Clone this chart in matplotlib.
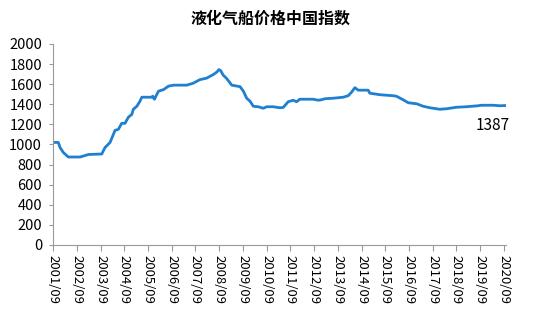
import matplotlib
matplotlib.use("Agg")
import matplotlib.pyplot as plt

plt.rcParams['font.family'] = ['Noto Sans CJK SC', 'DejaVu Sans']

# 指數數據 (年份小數, 指數值)
years = [2001.74, 2001.97, 2002.04, 2002.18, 2002.39, 2002.89, 2003.24, 2003.80,
         2003.94, 2004.15, 2004.36, 2004.50, 2004.64, 2004.78, 2004.92, 2005.07,
         2005.13, 2005.28, 2005.41, 2005.49, 2005.91, 2005.95, 2006.02, 2006.19,
         2006.40, 2006.61, 2006.82, 2007.38, 2007.66, 2007.94, 2008.22, 2008.50,
         2008.65, 2008.74, 2008.81, 2008.92, 2009.07, 2009.28, 2009.63, 2009.77,
         2009.91, 2010.05, 2010.19, 2010.40, 2010.61, 2010.75, 2011.03, 2011.31,
         2011.45, 2011.66, 2011.87, 2012.01, 2012.15, 2012.71, 2012.93, 2013.07,
         2013.21, 2013.56, 2013.98, 2014.19, 2014.33, 2014.47, 2014.61, 2015.03,
         2015.10, 2015.52, 2016.08, 2016.22, 2016.50, 2016.72, 2017.07, 2017.35,
         2017.63, 2018.05, 2018.33, 2018.75, 2019.17, 2019.66, 2019.80, 2020.30,
         2020.58, 2020.79]
values = [1020, 1020, 970, 920, 875, 875, 900, 905,
          970, 1020, 1140, 1150, 1210, 1210, 1270, 1300,
          1350, 1380, 1430, 1470, 1470, 1480, 1450, 1530,
          1545, 1580, 1590, 1590, 1610, 1645, 1660, 1695,
          1720, 1745, 1735, 1690, 1655, 1590, 1575, 1530,
          1460, 1430, 1380, 1375, 1360, 1375, 1375, 1365,
          1368, 1425, 1440, 1425, 1450, 1450, 1440, 1445,
          1455, 1460, 1470, 1485, 1520, 1565, 1540, 1540,
          1510, 1495, 1485, 1480, 1445, 1415, 1405, 1380,
          1365, 1350, 1355, 1370, 1375, 1385, 1390, 1390,
          1385, 1387]

tick_pos = [2001.75 + i for i in range(20)]
tick_labels = ["%d/09" % (2001 + i) for i in range(20)]
y_ticks = list(range(0, 2001, 200))

fig = plt.figure(figsize=(5.42, 3.14), dpi=100)
ax = fig.add_axes([0.098, 0.22, 0.836, 0.64])

ax.plot(years, values, color="#1f7fd0", linewidth=2)
ax.text(2020.3, 1387 - 110, "1387", fontsize=11, ha="center", va="top")

ax.set_xlim(2001.75, 2020.85)
ax.set_ylim(0, 2000)
ax.set_xticks(tick_pos)
ax.set_xticklabels(tick_labels, rotation=270, fontsize=9.5)
ax.set_yticks(y_ticks)
ax.tick_params(axis="y", labelsize=10.5, length=3, color="#999999", pad=5)
ax.tick_params(axis="x", length=4, color="#999999", pad=3)

for s in ["top", "right"]:
    ax.spines[s].set_visible(False)
for s in ["left", "bottom"]:
    ax.spines[s].set_color("#999999")

fig.suptitle("液化气船价格中国指数", y=0.965, fontsize=11.5, fontweight="bold")

fig.savefig("out.png", dpi=100)
